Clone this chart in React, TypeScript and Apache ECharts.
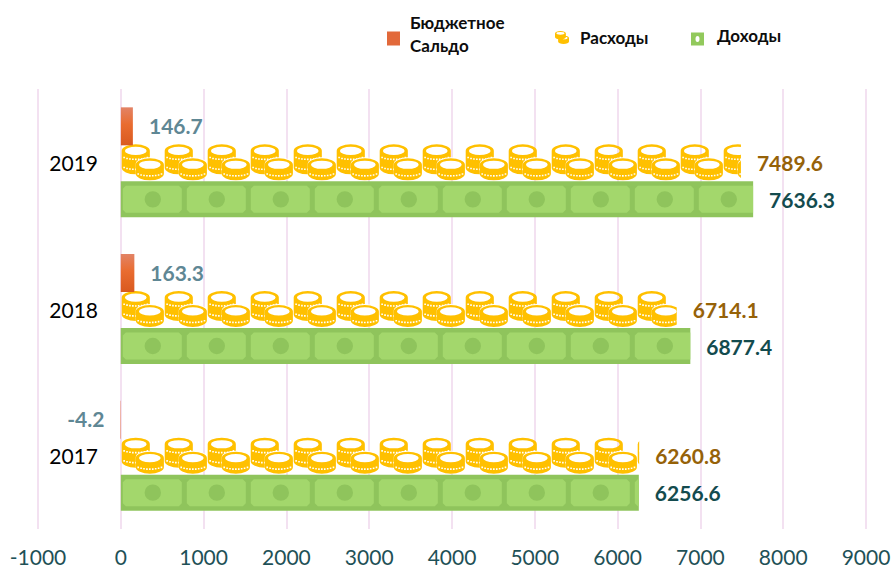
import React, { useEffect, useRef } from "react";
import * as echarts from "echarts";

const years = ["2017", "2018", "2019"];
const incomeValues = [6256.6, 6877.4, 7636.3];
const expenseValues = [6260.8, 6714.1, 7489.6];
const balanceValues = [-4.2, 163.3, 146.7];
const axisMin = -1000;
const axisMax = 9000;
const axisStep = 1000;

const balanceName = "Бюджетное\nСальдо";
const expenseName = "Расходы";
const incomeName = "Доходы";

const FONT = "Lato, Carlito, 'Open Sans', sans-serif";

const ell = (cx: number, cy: number, rx: number, ry: number) =>
  `M${cx - rx} ${cy}A${rx} ${ry} 0 1 0 ${cx + rx} ${cy}A${rx} ${ry} 0 1 0 ${cx - rx} ${cy}Z`;
const dots = (cx: number, ymid: number) => {
  let d = "";
  for (let i = -4; i <= 4; i++) {
    const dx = i * 2.9;
    const y = ymid - 4 * (1 - Math.sqrt(1 - (dx / 14) ** 2));
    const x = cx + dx;
    d += `M${x - 0.8} ${y - 0.8}L${x - 0.8} ${y + 0.8}L${x + 0.8} ${y + 0.8}L${x + 0.8} ${y - 0.8}Z`;
  }
  return d;
};
const corners = (w: number, h: number) => `M0 0L0 0ZM${w} ${h}L${w} ${h}Z`;

const stackShape = (cx: number, top: number, bottom: number) =>
  `M${cx - 14} ${top + 6.5}A14 6.5 0 0 1 ${cx + 14} ${top + 6.5}L${cx + 14} ${bottom - 6.5}A14 6.5 0 0 1 ${cx - 14} ${bottom - 6.5}Z`;

const coinLeft =
  "path://" + corners(43, 36) + stackShape(15, 0, 30) + ell(15, 6.6, 10.8, 4.1) + dots(15, 15) + dots(15, 25);
const coinRightBack = "path://" + corners(43, 36) + stackShape(29, 13, 36);
const coinRight =
  "path://" + corners(43, 36) + stackShape(29, 14, 36) + ell(29, 20.4, 10.8, 4.1) + dots(29, 31.5);
const legendCoin =
  "path://" + stackShape(14, 0, 22) + ell(14, 6.3, 10.5, 3.4) + stackShape(22, 12, 34) + ell(22, 18.3, 10.5, 3.4);
const billFace =
  "path://" + corners(64, 36) +
  "M5 4.5L58 4.5L61 7.5L61 28.5L58 31.5L5 31.5L2 28.5L2 7.5Z" + ell(32, 18, 8.2, 8.2);
const legendBalance = "path://" + corners(13, 27) + "M0 11L13 11L13 25L0 25Z";
const legendBill = "path://" + corners(13, 20) + "M0 7L13 7L13 20L0 20Z" + ell(6.5, 13.5, 2, 3);

const BAR_H = 36;
const COIN_W = 43;
const BILL_W = 64;
const pxPerUnit = 828 / (axisMax - axisMin);
const coinBound = (16 * COIN_W) / pxPerUnit;
const billBound = (10 * BILL_W) / pxPerUnit;
const gold = "#FFC000";

const labelBase = (color: string, dy: number) => ({
  show: true,
  position: "outside" as const,
  distance: 16,
  offset: [0, dy],
  color,
  fontFamily: FONT,
  fontWeight: "bold" as const,
  fontSize: 21,
});

const legendText = {
  fontFamily: FONT,
  fontWeight: "bold" as const,
  fontSize: 17,
  lineHeight: 23,
  color: "#0d0d0d",
};

export default function App() {
  const ref = useRef<HTMLDivElement>(null);
  useEffect(() => {
    const chart = echarts.init(ref.current!, undefined, { renderer: "svg" });
    const common = {
      type: "pictorialBar" as const,
      barWidth: BAR_H,
      barGap: "-100%",
      silent: true,
    };
    const coinRepeat = {
      symbolRepeat: "fixed" as const,
      symbolMargin: 0,
      symbolClip: true,
      symbolBoundingData: coinBound,
      symbolSize: [COIN_W, BAR_H],
      symbolOffset: [0, 0],
    };
    const balanceFill = new echarts.graphic.LinearGradient(0, 0, 0, 1, [
      { offset: 0, color: "#E28366" },
      { offset: 0.45, color: "#E96C30" },
      { offset: 1, color: "#D9591F" },
    ]);
    chart.setOption({
      animation: false,
      backgroundColor: "#ffffff",
      grid: { left: 38, right: 27, top: 89, bottom: 38, outerBoundsMode: "none", containLabel: false },
      legend: [
        {
          left: 387,
          top: 11,
          padding: 0,
          itemWidth: 13,
          itemHeight: 27,
          textStyle: { ...legendText, padding: [0, 0, 0, 5] },
          data: [{ name: balanceName, icon: legendBalance, itemStyle: { color: "#E2693A" } }],
        },
        {
          left: 555,
          top: 26,
          padding: 0,
          itemWidth: 14,
          itemHeight: 14,
          textStyle: { ...legendText, padding: [0, 0, 0, 6] },
          data: [{ name: expenseName, icon: legendCoin, itemStyle: { color: gold } }],
        },
        {
          left: 691,
          top: 24,
          padding: 0,
          itemWidth: 13,
          itemHeight: 20,
          textStyle: { ...legendText, padding: [0, 0, 0, 8] },
          data: [{ name: incomeName, icon: legendBill, itemStyle: { color: "#92C95C" } }],
        },
      ],
      xAxis: {
        type: "value",
        min: axisMin,
        max: axisMax,
        interval: axisStep,
        axisLine: { show: false },
        axisTick: { show: false },
        axisLabel: {
          margin: 17,
          fontFamily: FONT,
          fontSize: 21,
          lineHeight: 21,
          color: "#1F5157",
          showMinLabel: true,
          showMaxLabel: true,
          formatter: (v: number) => String(v),
        },
        splitLine: { show: true, lineStyle: { color: "#F3E1F1", width: 2 } },
      },
      yAxis: {
        type: "category",
        data: years,
        axisLine: { show: false },
        axisTick: { show: false },
        axisLabel: { margin: -60, fontFamily: FONT, fontSize: 21, color: "#000000" },
        splitLine: { show: false },
      },
      series: [
        {
          ...common,
          name: incomeName,
          data: incomeValues,
          symbol: "rect",
          symbolSize: ["100%", BAR_H],
          symbolOffset: [0, BAR_H + 1],
          itemStyle: { color: "#8FC45C" },
          label: labelBase("#134B4E", BAR_H + 1),
        },
        {
          ...common,
          name: incomeName,
          data: incomeValues,
          symbol: billFace,
          symbolRepeat: "fixed",
          symbolMargin: 0,
          symbolClip: true,
          symbolBoundingData: billBound,
          symbolSize: [BILL_W, BAR_H],
          symbolOffset: [0, BAR_H + 1],
          itemStyle: { color: "#A3D76C" },
        },
        {
          ...common,
          ...coinRepeat,
          name: expenseName,
          data: expenseValues,
          symbol: coinLeft,
          itemStyle: { color: gold },
        },
        {
          ...common,
          ...coinRepeat,
          name: expenseName,
          data: expenseValues,
          symbol: coinRightBack,
          itemStyle: { color: "#ffffff" },
        },
        {
          ...common,
          ...coinRepeat,
          name: expenseName,
          data: expenseValues,
          symbol: coinRight,
          itemStyle: { color: gold },
        },
        {
          ...common,
          name: expenseName,
          data: expenseValues,
          symbol: "rect",
          symbolSize: ["100%", BAR_H],
          itemStyle: { color: "transparent" },
          label: labelBase("#966208", 0),
        },
        {
          ...common,
          name: balanceName,
          data: balanceValues,
          symbol: "rect",
          symbolSize: ["100%", BAR_H + 2],
          symbolOffset: [0, -BAR_H],
          itemStyle: { color: balanceFill },
          label: labelBase("#5F8794", -BAR_H - 1),
        },
      ],
    });
    return () => chart.dispose();
  }, []);
  return (
    <div
      ref={ref}
      style={{ position: "fixed", left: 0, top: 0, width: 893, height: 567 }}
    />
  );
}
